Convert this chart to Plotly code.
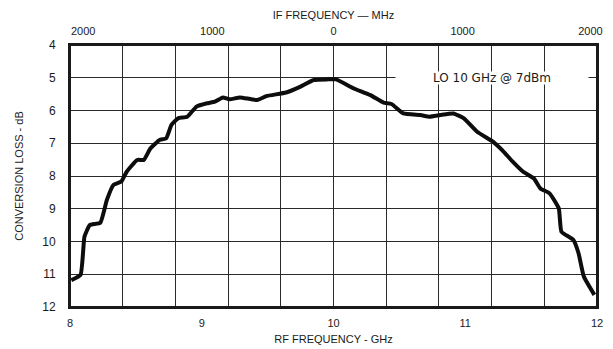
import plotly.graph_objects as go

# RF frequency (GHz) and conversion loss (dB)
rf_ghz = [8.01, 8.08, 8.11, 8.15, 8.23, 8.28, 8.33, 8.39, 8.43, 8.51, 8.56, 8.61,
          8.68, 8.73, 8.77, 8.82, 8.89, 8.96, 9.04, 9.10, 9.16, 9.21, 9.29, 9.42,
          9.49, 9.64, 9.75, 9.85, 9.95, 10.02, 10.15, 10.28, 10.38, 10.44, 10.53,
          10.66, 10.73, 10.81, 10.91, 10.99, 11.09, 11.21, 11.28, 11.36, 11.44,
          11.52, 11.57, 11.64, 11.71, 11.73, 11.82, 11.86, 11.90, 11.98]
loss_db = [11.18, 11.02, 9.85, 9.50, 9.43, 8.73, 8.27, 8.17, 7.87, 7.51, 7.51, 7.16,
           6.90, 6.85, 6.44, 6.24, 6.19, 5.88, 5.78, 5.73, 5.60, 5.66, 5.60, 5.68,
           5.56, 5.45, 5.27, 5.07, 5.05, 5.05, 5.32, 5.53, 5.76, 5.80, 6.09,
           6.14, 6.19, 6.14, 6.09, 6.24, 6.65, 6.95, 7.21, 7.56, 7.87,
           8.07, 8.38, 8.53, 8.99, 9.70, 9.95, 10.36, 11.07, 11.63]

rf_ticks = [8, 9, 10, 11, 12]
rf_labels = ["8", "9", "10", "11", "12"]
if_ticks = [8.1, 9.08, 10, 10.98, 11.95]
if_labels = ["2000", "1000", "0", "1000", "2000"]
loss_ticks = [4, 5, 6, 7, 8, 9, 10, 11, 12]
note = "LO 10 GHz @ 7dBm"

FONT = "Liberation Sans, Arial, sans-serif"
INK = "#1a1a1a"
GRID = "#2a2a2a"

fig = go.Figure()
fig.add_trace(go.Scatter(x=rf_ghz, y=loss_db, mode="lines",
                         line=dict(color="#0d0d0d", width=4, shape="spline", smoothing=0.4),
                         showlegend=False, hoverinfo="x+y"))
fig.add_trace(go.Scatter(x=rf_ghz, y=loss_db, mode="lines", xaxis="x2",
                         line=dict(width=0), opacity=0, showlegend=False, hoverinfo="skip"))

# page body has an 8px default margin, so the figure is sized to fit inside the window
fig.update_layout(
    width=605, height=341,
    margin=dict(l=62, r=16, t=37, b=42, autoexpand=False),
    paper_bgcolor="white", plot_bgcolor="white",
    font=dict(family=FONT, color=INK, size=11),
    xaxis=dict(range=[8, 12], tickvals=rf_ticks, ticktext=rf_labels, automargin=False,
               showgrid=False, zeroline=False,
               showline=True, linecolor=INK, linewidth=2,
               ticks="", ticklabelstandoff=5,
               minor=dict(tick0=8, dtick=0.4, showgrid=True, gridcolor=GRID, gridwidth=1.3),
               title=dict(text="RF FREQUENCY - GHz", standoff=7, font=dict(size=11))),
    xaxis2=dict(range=[8, 12], overlaying="x", side="top", anchor="y", automargin=False,
                tickvals=if_ticks, ticktext=if_labels,
                showgrid=False, zeroline=False,
                showline=True, linecolor=INK, linewidth=2,
                ticks="", ticklabelstandoff=4,
                title=dict(text="IF FREQUENCY — MHz", standoff=3, font=dict(size=11))),
    yaxis=dict(range=[12, 4], tickvals=loss_ticks, automargin=False,
               showgrid=True, gridcolor=GRID, gridwidth=1.3, zeroline=False,
               showline=True, linecolor=INK, linewidth=2, mirror=True,
               ticks="", ticklabelstandoff=10, tickfont=dict(size=12),
               title=dict(text="CONVERSION LOSS - dB", standoff=16, font=dict(size=11))),
    shapes=[dict(type="rect", xref="paper", yref="paper", x0=0, x1=1, y0=0, y1=1,
                 line=dict(color=INK, width=2), fillcolor="rgba(0,0,0,0)", layer="above")],
    annotations=[dict(x=11.2, y=5, xref="x", yref="y", text=note, showarrow=False,
                      bgcolor="white", width=192, height=12, align="center", borderpad=0,
                      font=dict(size=12, color=INK, family="DejaVu Sans, sans-serif"))],
)

fig.write_html("out.html")
